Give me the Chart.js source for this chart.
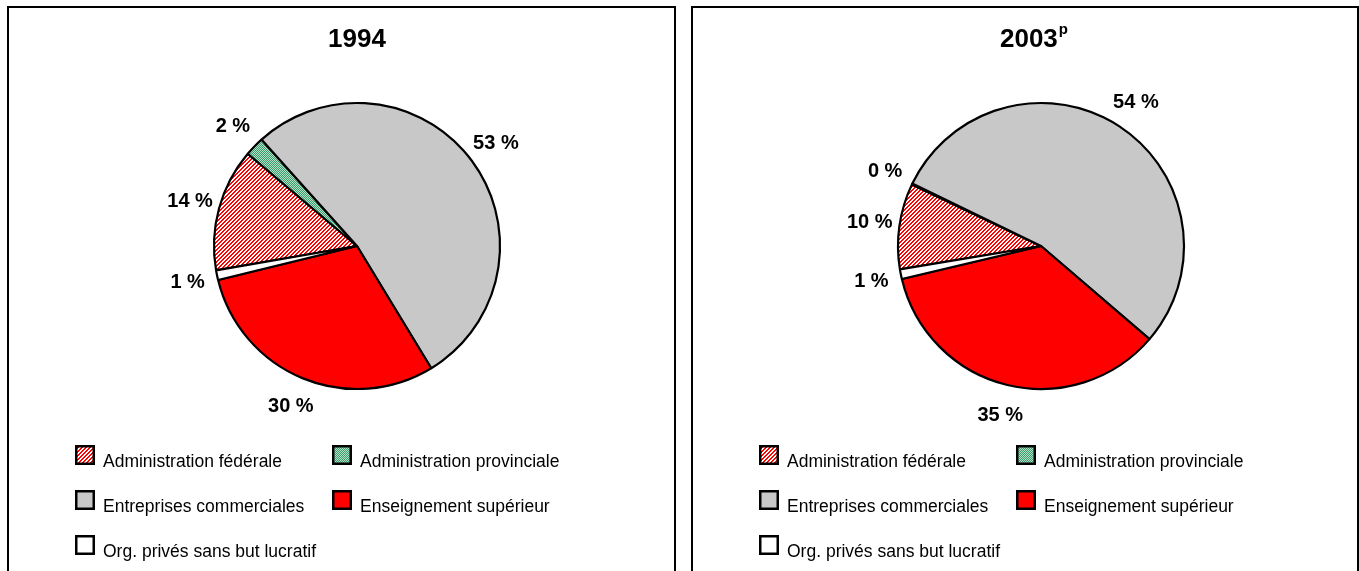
<!DOCTYPE html>
<html><head><meta charset="utf-8">
<script src="https://cdn.jsdelivr.net/npm/chart.js@4/dist/chart.umd.min.js"></script>
<style>
html,body{margin:0;padding:0;background:#fff;width:1359px;height:571px;overflow:hidden;font-family:"Liberation Sans",Arial,sans-serif;color:#000;}
.panel{position:absolute;top:6px;height:620px;border:2px solid #000;box-sizing:border-box;}
#p1{left:7px;width:669px;}
#p2{left:691px;width:668px;}
.panel > canvas{position:absolute;left:0;top:0;}
.title{position:absolute;top:17px;font-weight:bold;font-size:26px;line-height:26px;white-space:nowrap;transform:translateX(-50%);}
#t1{left:348px;}
#t2{left:341px;}
.title sup{font-size:15px;vertical-align:13px;line-height:0;margin-left:1px;}
.lg-box{position:absolute;width:20px;height:20px;}
.lg-text{position:absolute;font-size:17.5px;line-height:20px;white-space:nowrap;}
</style>
</head><body>
<div class="panel" id="p1"><canvas id="c1" width="665" height="563"></canvas><div class="title" id="t1">1994</div></div>
<div class="panel" id="p2"><canvas id="c2" width="664" height="563"></canvas><div class="title" id="t2">2003<sup>p</sup></div></div>
<script>
// ---- data ----
const categories = ["Administration fédérale", "Administration provinciale", "Entreprises commerciales", "Enseignement supérieur", "Org. privés sans but lucratif"];
const values1994 = [13.9, 2.2, 53.0, 29.9, 1.1];
const values2003 = [9.7, 0.1, 54.1, 35.0, 1.1];
const startAngle1994 = 260.2;
const startAngle2003 = 260.6;

// ---- styles ----
function tileHatchRed() {
  const c = document.createElement('canvas'); c.width = 4; c.height = 4;
  const x = c.getContext('2d');
  x.fillStyle = '#ffffff'; x.fillRect(0, 0, 4, 4);
  x.fillStyle = '#ff0000';
  for (let i = 0; i < 4; i++) for (let j = 0; j < 4; j++) if ((i + j) % 4 < 2) x.fillRect(i, j, 1, 1);
  return c;
}
function tileGreen() {
  const c = document.createElement('canvas'); c.width = 2; c.height = 2;
  const x = c.getContext('2d');
  x.fillStyle = '#b4e0c8'; x.fillRect(0, 0, 2, 2);
  x.fillStyle = '#3a9c6c'; x.fillRect(0, 0, 1, 1); x.fillRect(1, 1, 1, 1);
  return c;
}
const tiles = [tileHatchRed(), tileGreen(), null, null, null];
const solid = [null, null, '#c8c8c8', '#ff0000', '#ffffff'];
function fillFor(ctx, i) {
  return tiles[i] ? ctx.createPattern(tiles[i], 'repeat') : solid[i];
}

const pctLabels = {
  id: 'pctLabels',
  afterDatasetsDraw(chart) {
    const ctx = chart.ctx;
    const meta = chart.getDatasetMeta(0);
    const vals = chart.data.datasets[0].data;
    ctx.save();
    ctx.font = 'bold 20px "Liberation Sans", Arial, sans-serif';
    ctx.fillStyle = '#000';
    ctx.textAlign = 'center';
    ctx.textBaseline = 'middle';
    meta.data.forEach((arc, i) => {
      const p = arc.getProps(['x', 'y', 'startAngle', 'endAngle', 'outerRadius'], true);
      const mid = (p.startAngle + p.endAngle) / 2;
      const d = p.outerRadius + 30;
      ctx.fillText(Math.round(vals[i]) + ' %', p.x + Math.cos(mid) * d, p.y + Math.sin(mid) * d + 1);
    });
    ctx.restore();
  }
};

function makePie(canvasId, values, rot) {
  const canvas = document.getElementById(canvasId);
  const ctx = canvas.getContext('2d');
  const w = canvas.width;
  const chart = new Chart(ctx, {
    type: 'pie',
    data: {
      labels: categories,
      datasets: [{
        data: values,
        backgroundColor: categories.map((_, i) => fillFor(ctx, i)),
        borderColor: '#000000',
        borderWidth: 2.2,
        radius: 143
      }]
    },
    options: {
      responsive: false,
      animation: false,
      rotation: rot,
      layout: { padding: { left: 198, top: 88, right: w - 348 - 150, bottom: 563 - 238 - 150 } },
      plugins: { legend: { display: false }, tooltip: { enabled: false }, title: { display: false } },
      events: []
    },
    plugins: [pctLabels]
  });
  // HTML legend built from the chart's own legend items
  const items = Chart.overrides.pie.plugins.legend.labels.generateLabels(chart);
  const panel = canvas.parentNode;
  const cols = [66, 323], rows = [437, 482, 527];
  items.forEach((it, k) => {
    const bx = cols[k % 2], by = rows[Math.floor(k / 2)];
    const sw = document.createElement('canvas');
    sw.width = 20; sw.height = 20; sw.className = 'lg-box';
    sw.style.left = bx + 'px'; sw.style.top = by + 'px';
    const sx = sw.getContext('2d');
    sx.fillStyle = fillFor(sx, it.index);
    sx.fillRect(0, 0, 20, 20);
    sx.strokeStyle = '#000'; sx.lineWidth = 2.5;
    sx.strokeRect(1.25, 1.25, 17.5, 17.5);
    panel.appendChild(sw);
    const t = document.createElement('div');
    t.className = 'lg-text';
    t.textContent = it.text;
    t.style.left = (bx + 28) + 'px'; t.style.top = (by + 6) + 'px';
    panel.appendChild(t);
  });
  return chart;
}

makePie('c1', values1994, startAngle1994);
makePie('c2', values2003, startAngle2003);
</script>
</body></html>
